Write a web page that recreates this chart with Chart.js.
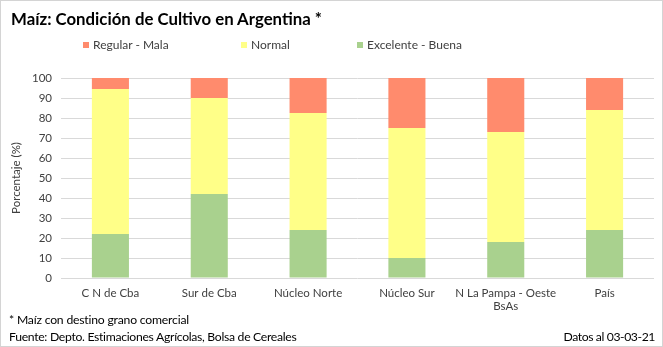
<!DOCTYPE html>
<html lang="es">
<head>
<meta charset="UTF-8">
<title>Maíz: Condición de Cultivo en Argentina</title>
<script src="https://cdn.jsdelivr.net/npm/chart.js"></script>
<style>
body {margin: 0; background: #fff; font-family: Lato, "Liberation Sans", sans-serif;}
#wrap {position: relative; width: 661px; height: 345px; border: 1px solid #d4d4d4; overflow: hidden;}
#myChart {position: absolute; left: 0; top: 0;}
.txt {position: absolute; white-space: nowrap; color: #000;}
#title {left: 10px; top: 7px; font-size: 16.8px; font-weight: bold;}
#legend {position: absolute; top: 36px; left: 0; height: 16px; font-size: 12px; color: #404040;}
#legend span.item {position: absolute; top: 0; white-space: nowrap;}
#legend span.box {display: inline-block; width: 6px; height: 6px; margin-right: 4px; vertical-align: 1px;}
#note {left: 8px; top: 311px; font-size: 12.2px; letter-spacing: -0.2px;}
#source {left: 8px; top: 328px; font-size: 12.2px; letter-spacing: -0.3px;}
#fecha {right: 7px; top: 328px; font-size: 12.2px; letter-spacing: -0.4px;}
</style>
</head>
<body>
<div id="wrap">
  <canvas id="myChart" width="661" height="345"></canvas>
  <div class="txt" id="title">Maíz: Condición de Cultivo en Argentina *</div>
  <div id="legend"></div>
  <div class="txt" id="note">* Maíz con destino grano comercial</div>
  <div class="txt" id="source">Fuente: Depto. Estimaciones Agrícolas, Bolsa de Cereales</div>
  <div class="txt" id="fecha">Datos al 03-03-21</div>
</div>

<script>
// datos
var regiones = ['C N de Cba', 'Sur de Cba', 'Núcleo Norte', 'Núcleo Sur', ['N La Pampa - Oeste', 'BsAs'], 'País'];
var excelenteBuena = [22, 42, 24, 10, 18, 24];
var normal = [72.5, 48, 58.5, 65, 55, 60];
var regularMala = [5.5, 10, 17.5, 25, 27, 16];
var yTicks = [0, 10, 20, 30, 40, 50, 60, 70, 80, 90, 100];

var colores = {
  regular: '#ff8b6d',
  normal: '#ffff88',
  excelente: '#a9d18e'
};

// orden de apilado: verde abajo, rojo arriba
var datasets = [
  {label: 'Excelente - Buena', data: excelenteBuena, backgroundColor: colores.excelente},
  {label: 'Normal', data: normal, backgroundColor: colores.normal},
  {label: 'Regular - Mala', data: regularMala, backgroundColor: colores.regular}
];

const ctx = document.getElementById('myChart');
const chart = new Chart(ctx, {
  type: 'bar',
  data: {
    labels: regiones,
    datasets: datasets
  },
  options: {
    responsive: false,
    animation: false,
    layout: {padding: {top: 77, left: 8, right: 8, bottom: 28}},
    datasets: {bar: {categoryPercentage: 1, barPercentage: 0.375}},
    plugins: {
      legend: {display: false},
      title: {display: false},
      tooltip: {enabled: false}
    },
    scales: {
      x: {
        stacked: true,
        grid: {display: false, drawTicks: false},
        border: {display: false},
        ticks: {
          color: '#404040',
          padding: 8,
          maxRotation: 0,
          autoSkip: false,
          font: {family: 'Lato', size: 11.5, lineHeight: 1.2}
        },
        afterFit: function(scale) { scale.height = 40; }
      },
      y: {
        stacked: true,
        min: 0,
        max: 100,
        afterBuildTicks: function(scale) {
          scale.ticks = yTicks.map(function(v) { return {value: v}; });
        },
        grid: {color: '#d9d9d9', drawTicks: false},
        border: {display: false},
        ticks: {
          color: '#404040',
          padding: 9,
          font: {family: 'Lato', size: 11.5}
        },
        title: {
          display: true,
          text: 'Porcentaje (%)',
          color: '#404040',
          padding: 0,
          font: {family: 'Lato', size: 11.5}
        },
        afterFit: function(scale) { scale.width = 52; }
      }
    }
  }
});

// leyenda en HTML, mismo orden que la original
var legendItems = [
  {label: 'Regular - Mala', color: colores.regular, x: 82},
  {label: 'Normal', color: colores.normal, x: 240},
  {label: 'Excelente - Buena', color: colores.excelente, x: 356}
];
var legend = document.getElementById('legend');
legendItems.forEach(function(it) {
  var s = document.createElement('span');
  s.className = 'item';
  s.style.left = it.x + 'px';
  s.innerHTML = '<span class="box" style="background:' + it.color + '"></span>' + it.label;
  legend.appendChild(s);
});
</script>
</body>
</html>
